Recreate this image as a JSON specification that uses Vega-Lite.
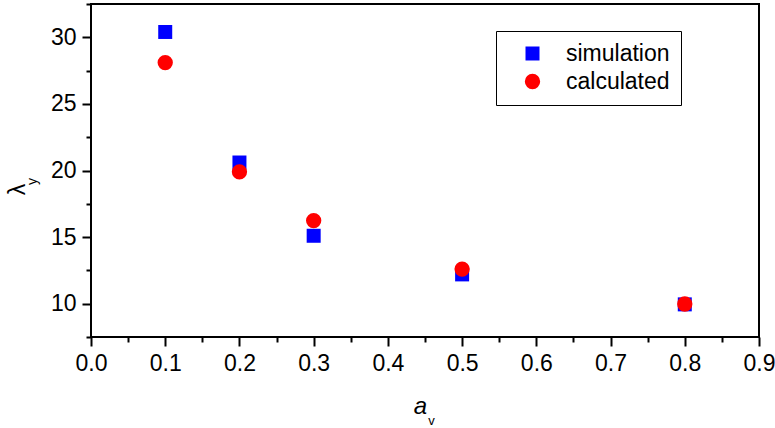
{
  "$schema": "https://vega.github.io/schema/vega-lite/v6.json",
  "width": 668,
  "height": 333,
  "autosize": {"type": "none"},
  "padding": {"left": 91, "top": 4, "right": 16, "bottom": 91},
  "background": "white",
  "config": {
    "font": "Liberation Sans",
    "view": {"stroke": "black", "strokeWidth": 2},
    "axis": {"domain": false, "grid": false, "tickColor": "black", "tickWidth": 2, "labelColor": "black", "titleColor": "black", "labelFont": "Liberation Sans", "titleFont": "Liberation Sans", "titleFontWeight": "normal"}
  },
  "data": {
    "values": [
      {"a": 0.1, "lambda": 30.4, "series": "simulation"},
      {"a": 0.2, "lambda": 20.6, "series": "simulation"},
      {"a": 0.3, "lambda": 15.1, "series": "simulation"},
      {"a": 0.5, "lambda": 12.2, "series": "simulation"},
      {"a": 0.8, "lambda": 9.95, "series": "simulation"},
      {"a": 0.1, "lambda": 28.1, "series": "calculated"},
      {"a": 0.2, "lambda": 19.9, "series": "calculated"},
      {"a": 0.3, "lambda": 16.24, "series": "calculated"},
      {"a": 0.5, "lambda": 12.6, "series": "calculated"},
      {"a": 0.8, "lambda": 9.98, "series": "calculated"}
    ]
  },
  "layer": [
    {
      "mark": {"type": "point", "filled": true, "opacity": 1, "strokeWidth": 0},
      "encoding": {
        "x": {
          "field": "a", "type": "quantitative",
          "scale": {"domain": [0, 0.9], "nice": false, "zero": false},
          "axis": {"orient": "bottom", "values": [0, 0.1, 0.2, 0.3, 0.4, 0.5, 0.6, 0.7, 0.8, 0.9], "format": ".1f", "tickSize": 9, "labelFontSize": 23, "labelPadding": 6, "labelFlush": false,
            "title": "a", "titleFontSize": 24, "titleFontStyle": "italic", "titleX": 329, "titleY": 76, "titleBaseline": "alphabetic", "titleAnchor": "middle", "titleAlign": "center"}
        },
        "y": {
          "field": "lambda", "type": "quantitative",
          "scale": {"domain": [7.5, 32.5], "nice": false, "zero": false},
          "axis": {"orient": "left", "values": [10, 15, 20, 25, 30], "tickSize": 9, "labelFontSize": 23, "labelPadding": 6,
            "title": "λ", "titleFontSize": 23, "titleAngle": -90, "titleX": -67, "titleY": 185, "titleBaseline": "alphabetic", "titleAlign": "center"}
        },
        "color": {
          "field": "series", "type": "nominal",
          "scale": {"domain": ["simulation", "calculated"], "range": ["#0000ff", "#ff0000"]},
          "legend": {"title": null, "orient": "none", "legendX": 405, "legendY": 27, "strokeColor": "black", "fillColor": "white", "padding": 11, "symbolOffset": 14, "labelOffset": 22, "labelFontSize": 23, "labelColor": "black", "rowPadding": 4}
        },
        "shape": {
          "field": "series", "type": "nominal",
          "scale": {"domain": ["simulation", "calculated"], "range": ["square", "circle"]}
        },
        "size": {
          "field": "series", "type": "nominal",
          "scale": {"domain": ["simulation", "calculated"], "range": [196, 235]}
        }
      }
    },
    {
      "mark": {"type": "point", "opacity": 0},
      "encoding": {
        "x": {
          "field": "a", "type": "quantitative",
          "scale": {"domain": [0, 0.9], "nice": false, "zero": false},
          "axis": {"orient": "bottom", "values": [0.05, 0.15, 0.25, 0.35, 0.45, 0.55, 0.65, 0.75, 0.85], "labels": false, "tickSize": 5,
            "title": "v", "titleFontSize": 13, "titleX": 340, "titleY": 87, "titleBaseline": "alphabetic", "titleAlign": "center"}
        },
        "y": {
          "field": "lambda", "type": "quantitative",
          "scale": {"domain": [7.5, 32.5], "nice": false, "zero": false},
          "axis": {"orient": "left", "values": [7.5, 12.5, 17.5, 22.5, 27.5, 32.5], "labels": false, "tickSize": 5,
            "title": "y", "titleFontSize": 14, "titleAngle": -90, "titleX": -55, "titleY": 177, "titleBaseline": "alphabetic", "titleAlign": "center"}
        }
      }
    }
  ],
  "resolve": {"axis": {"x": "independent", "y": "independent"}}
}
